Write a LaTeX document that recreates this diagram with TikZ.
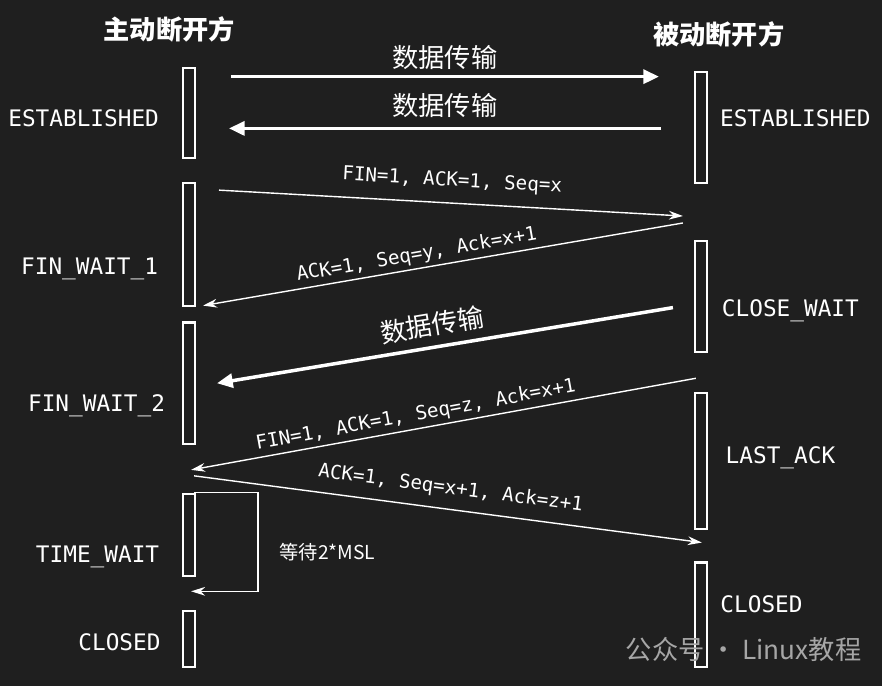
\documentclass[tikz,border=0pt]{standalone}
\usepackage{fontspec}
\setmainfont{DejaVu Sans Mono}
\newfontfamily\cjk{Noto Sans CJK SC}
\newfontfamily\sans{Liberation Sans}
\usetikzlibrary{arrows.meta, positioning}

\begin{document}
\begin{tikzpicture}[x=0.02cm, y=-0.02cm,
            bar/.style={draw=white, line width=1.2pt},
            state/.style={text=white, font=\fontsize{13}{13}\selectfont},
            head/.style={text=white, font=\cjk\bfseries\fontsize{15}{15}\selectfont},
            data/.style={-{Triangle[length=9pt,width=8pt]}, white, line width=2pt},
            msg/.style={-{Stealth[length=8pt,width=5pt]}, white, line width=0.8pt},
            lbl/.style={text=white, font=\fontsize{11}{11}\selectfont, inner sep=1pt},
            clbl/.style={text=white, font=\cjk\fontsize{15}{15}\selectfont, inner sep=1pt}
        ]

        % background
        \fill[black!88] (-2,-2) rectangle (884,687);
        \useasboundingbox (0,0) rectangle (882,685);

        % Headers
        \node[head] (hl) at (168,28) {主动断开方};
        \node[head] (hr) at (720,33) {被动断开方};

        % Bars (left)
        \draw[bar] (182,66) rectangle (194,157);
        \draw[bar] (182,182) rectangle (194,305);
        \draw[bar] (182,322) rectangle (194,444);
        \draw[bar] (182,494) rectangle (194,577);
        \draw[bar] (182,612) rectangle (194,668);
        % Bars (right)
        \draw[bar] (696,70) rectangle (708,182);
        \draw[bar] (696,240) rectangle (708,352);
        \draw[bar] (696,393) rectangle (708,529);
        \draw[bar] (696,563) rectangle (708,668);

        % States
        \node[state] (s1) at (82,117) {ESTABLISHED};
        \node[state] (s2) at (88,268) {FIN\_WAIT\_1};
        \node[state] (s3) at (95,406) {FIN\_WAIT\_2};
        \node[state] (s4) at (96,557) {TIME\_WAIT};
        \node[state] (s5) at (118,643) {CLOSED};
        \node[state] (r1) at (797,117) {ESTABLISHED};
        \node[state] (r2) at (792,310) {CLOSE\_WAIT};
        \node[state] (r3) at (782,458) {LAST\_ACK};
        \node[state] (r4) at (763,605) {CLOSED};

        % Connector ends
        \coordinate (a1) at (230,75);  \coordinate (b1) at (660,75);
        \coordinate (b2) at (662,127); \coordinate (a2) at (228,127);
        \coordinate (a3) at (218,189); \coordinate (b3) at (684,215);
        \coordinate (b4) at (684,222); \coordinate (a4) at (202,305);
        \coordinate (b5) at (674,307); \coordinate (a5) at (216,383);
        \coordinate (b6) at (697,378); \coordinate (a6) at (190,470);
        \coordinate (a7) at (193,476); \coordinate (b7) at (703,543);
        \coordinate (w1) at (193,493); \coordinate (w2) at (190,592);

        % Messages
        \draw[data] (a1) -- node[clbl, above=2pt] {数据传输} (b1);
        \draw[data] (b2) -- node[clbl, above=4pt] {数据传输} (a2);
        \draw[msg] (a3) -- node[lbl, above=6pt, sloped] {FIN=1, ACK=1, Seq=x} (b3);
        \draw[msg] (b4) -- node[lbl, above=1pt, sloped, pos=0.55] {ACK=1, Seq=y, Ack=x+1} (a4);
        \draw[data] (b5) -- node[clbl, above=4pt, sloped, pos=0.52] {数据传输} (a5);
        \draw[msg] (b6) -- node[lbl, above=1pt, sloped, pos=0.55] {FIN=1, ACK=1, Seq=z, Ack=x+1} (a6);
        \draw[msg] (a7) -- node[lbl, above=5pt, sloped] {ACK=1, Seq=x+1, Ack=z+1} (b7);

        % 2MSL wait
        \draw[msg] (w1) -- (257,493) -- (257,592) -- (w2);
        \node[text=white, font=\cjk\fontsize{11}{11}\selectfont] (wait) at (327,553) {等待2*MSL};

        % watermark
        \node[text=black!35, font=\cjk\fontsize{15}{15}\selectfont] (wm) at (745,650) {公众号 · Linux教程};
        \end{tikzpicture}
\end{document}
